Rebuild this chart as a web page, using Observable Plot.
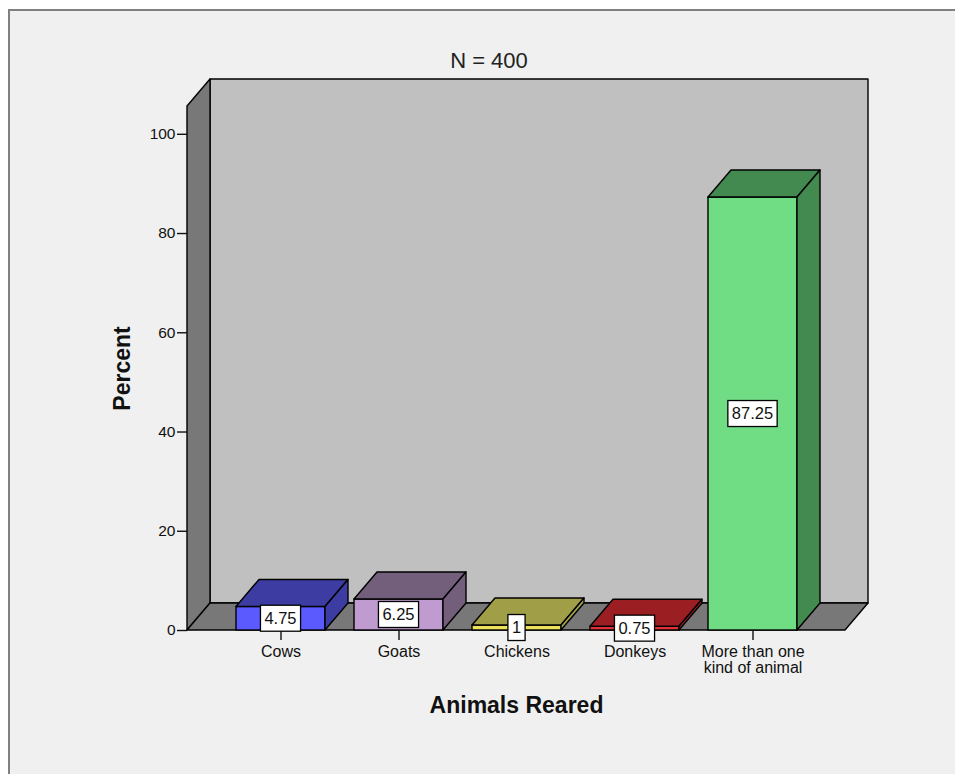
<!DOCTYPE html>
<html>
<head>
<meta charset="utf-8">
<script src="https://cdn.jsdelivr.net/npm/d3@7"></script>
<script src="https://cdn.jsdelivr.net/npm/@observablehq/plot@0.6"></script>
<style>
  html, body { margin: 0; padding: 0; background: #ffffff; width: 955px; height: 774px; overflow: hidden; }
  #frame { position: absolute; left: 8px; top: 9px; width: 980px; height: 800px;
           background: #f0f0f0; border-top: 2px solid #808080; border-left: 2px solid #808080; }
  #title { position: absolute; left: 0; top: 49px; width: 978px; text-align: center;
           font: 22px "Liberation Sans", Arial, sans-serif; line-height: 24px; color: #222; }
  #chart { position: absolute; left: 0; top: 0; }
</style>
</head>
<body>
<div id="frame"></div>
<div id="title"></div>
<div id="chart"></div>
<script>
// Survey of 400 households: which animals they rear
const titleText = "N = 400";
const categories = ["Cows", "Goats", "Chickens", "Donkeys", "More than one kind of animal"];
const tickLabels = ["Cows", "Goats", "Chickens", "Donkeys", "More than one\nkind of animal"];
const percents = [4.75, 6.25, 1, 0.75, 87.25];
const frontColors = ["#5a5aff", "#c09bd0", "#ece25c", "#e03236", "#70dc84"];
const shadeColors = ["#3c3ca2", "#735e7b", "#a09f48", "#9a1e22", "#428a50"];
const yTicks = [0, 20, 40, 60, 80, 100];
const yTop = 105.6;            // top of the walls, in percent
const xTitle = "Animals Reared";
const yTitle = "Percent";

const rows = categories.map((c, i) => ({
  category: c, percent: percents[i], front: frontColors[i], shade: shadeColors[i]
}));

// pixel depth of the 3-D box
const DX = 23, DY = 27;
const EDGE = "#000", EDGE_W = 1.4;

const bandwidthOf = (s) => typeof s.bandwidth === "function" ? s.bandwidth() : s.bandwidth;

// back wall, left wall and floor, spanning the plot frame
function walls(index, scales, values, dim) {
  const {y} = scales;
  const xl = dim.marginLeft, xr = dim.width - dim.marginRight;
  const yb = y(0), yt = y(yTop);
  const g = d3.create("svg:g").attr("stroke", EDGE).attr("stroke-width", EDGE_W).attr("stroke-linejoin", "round");
  g.append("path").attr("fill", "#c0c0c0")
    .attr("d", `M${xl + DX},${yt - DY}H${xr + DX}V${yb - DY}H${xl + DX}Z`);
  g.append("path").attr("fill", "#787878")
    .attr("d", `M${xl},${yb}V${yt}L${xl + DX},${yt - DY}V${yb - DY}Z`);
  g.append("path").attr("fill", "#787878")
    .attr("d", `M${xl},${yb}L${xl + DX},${yb - DY}H${xr + DX}L${xr},${yb}Z`);
  return g.node();
}

// top and right-hand faces of each bar
function barFaces(index, scales) {
  const {x, y} = scales;
  const bw = bandwidthOf(x);
  const g = d3.create("svg:g").attr("stroke", EDGE).attr("stroke-width", EDGE_W).attr("stroke-linejoin", "round");
  for (const d of rows) {
    const x0 = x(d.category), x1 = x0 + bw, yv = y(d.percent), yb = y(0);
    g.append("path").attr("fill", d.shade)
      .attr("d", `M${x0},${yv}L${x0 + DX},${yv - DY}H${x1 + DX}L${x1},${yv}Z`);
    g.append("path").attr("fill", d.shade)
      .attr("d", `M${x1},${yv}L${x1 + DX},${yv - DY}V${yb - DY}L${x1},${yb}Z`);
  }
  return g.node();
}

// boxed value labels centred on each bar's front face
const LABEL_FONT = 16.5;
function valueLabels(index, scales) {
  const {x, y} = scales;
  const bw = bandwidthOf(x);
  const ctx = document.createElement("canvas").getContext("2d");
  ctx.font = `${LABEL_FONT}px "Liberation Sans", Arial, sans-serif`;
  const g = d3.create("svg:g");
  for (const d of rows) {
    const cx = x(d.category) + bw / 2;
    const cy = (y(d.percent) + y(0)) / 2;
    const label = String(d.percent);
    const tw = ctx.measureText(label).width;
    g.append("rect")
      .attr("x", cx - tw / 2 - 4).attr("y", cy - 13)
      .attr("width", tw + 8).attr("height", 26)
      .attr("fill", "#fff").attr("stroke", EDGE).attr("stroke-width", 1.3);
    g.append("text")
      .attr("x", cx).attr("y", cy).attr("dy", "0.36em")
      .attr("text-anchor", "middle")
      .attr("font-size", LABEL_FONT).attr("fill", "#111")
      .text(label);
  }
  return g.node();
}

const chart = Plot.plot({
  width: 955,
  height: 774,
  marginLeft: 187,
  marginRight: 110,
  marginTop: 106,
  marginBottom: 144,
  style: { background: "transparent", fontFamily: "'Liberation Sans', Arial, sans-serif", color: "#111", overflow: "visible" },
  x: { domain: categories, paddingInner: 0.25, paddingOuter: 0.4 },
  y: { domain: [0, yTop] },
  color: { type: "identity" },
  marks: [
    walls,
    Plot.barY(rows, { x: "category", y: "percent", fill: "front", stroke: EDGE, strokeWidth: EDGE_W }),
    barFaces,
    Plot.axisY(yTicks, { tickSize: 10, tickPadding: 2, fontSize: 15.5, strokeWidth: 1.4, stroke: "#111", label: null }),
    Plot.axisX({
      tickSize: 10, tickPadding: 5, fontSize: 16, lineHeight: 1.0, strokeWidth: 1.4, stroke: "#111",
      tickFormat: (c) => tickLabels[categories.indexOf(c)], label: null
    }),
    valueLabels,
    Plot.text([yTitle], { frameAnchor: "left", dx: -65, rotate: -90, fontSize: 23, fontWeight: "bold", textAnchor: "middle", lineAnchor: "middle" }),
    Plot.text([xTitle], { frameAnchor: "bottom", dy: 75, fontSize: 23, fontWeight: "bold", textAnchor: "middle", lineAnchor: "middle" })
  ]
});

document.getElementById("title").textContent = titleText;
document.getElementById("chart").append(chart);
</script>
</body>
</html>
